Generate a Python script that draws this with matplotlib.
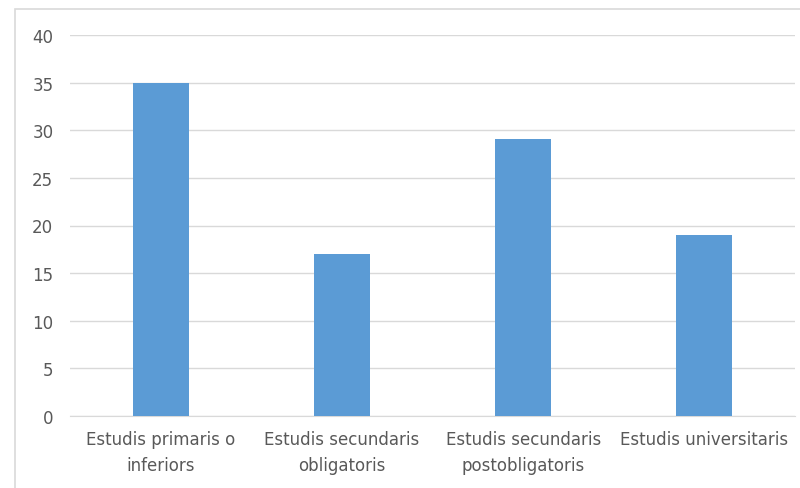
import matplotlib
matplotlib.use('Agg')
import matplotlib.pyplot as plt
from matplotlib.patches import Rectangle

categories = ['Estudis primaris o\ninferiors', 'Estudis secundaris\nobligatoris',
              'Estudis secundaris\npostobligatoris', 'Estudis universitaris']
values = [35, 17, 29.1, 19]
yticks = [0, 5, 10, 15, 20, 25, 30, 35, 40]

plt.rcParams['font.family'] = ['Liberation Sans Narrow', 'DejaVu Sans']

fig = plt.figure(figsize=(8, 4.89), dpi=100)
# outer chart border
fig.patches.append(Rectangle((15 / 800, -0.1), 1.2, 1 - 10 / 489 + 0.1,
                             transform=fig.transFigure, fill=False,
                             edgecolor='#d9d9d9', lw=1.2))

ax = fig.add_axes([70 / 800, 1 - 417 / 489, 725 / 800, 381 / 489])
x = range(len(categories))
ax.bar(x, values, width=0.31, color='#5b9bd5', zorder=3)
ax.set_xlim(-0.5, len(categories) - 0.5)
ax.set_ylim(0, 40)
ax.set_yticks(yticks)
ax.set_xticks(list(x))
ax.set_xticklabels(categories, linespacing=1.55)
ax.grid(axis='y', color='#d9d9d9', lw=1, zorder=0)
for s in ['top', 'right', 'left']:
    ax.spines[s].set_visible(False)
ax.spines['bottom'].set_color('#d9d9d9')
ax.tick_params(axis='both', length=0, colors='#595959', labelsize=12)
ax.tick_params(axis='y', pad=12)
ax.tick_params(axis='x', pad=10)

fig.savefig('out.png', dpi=100)
